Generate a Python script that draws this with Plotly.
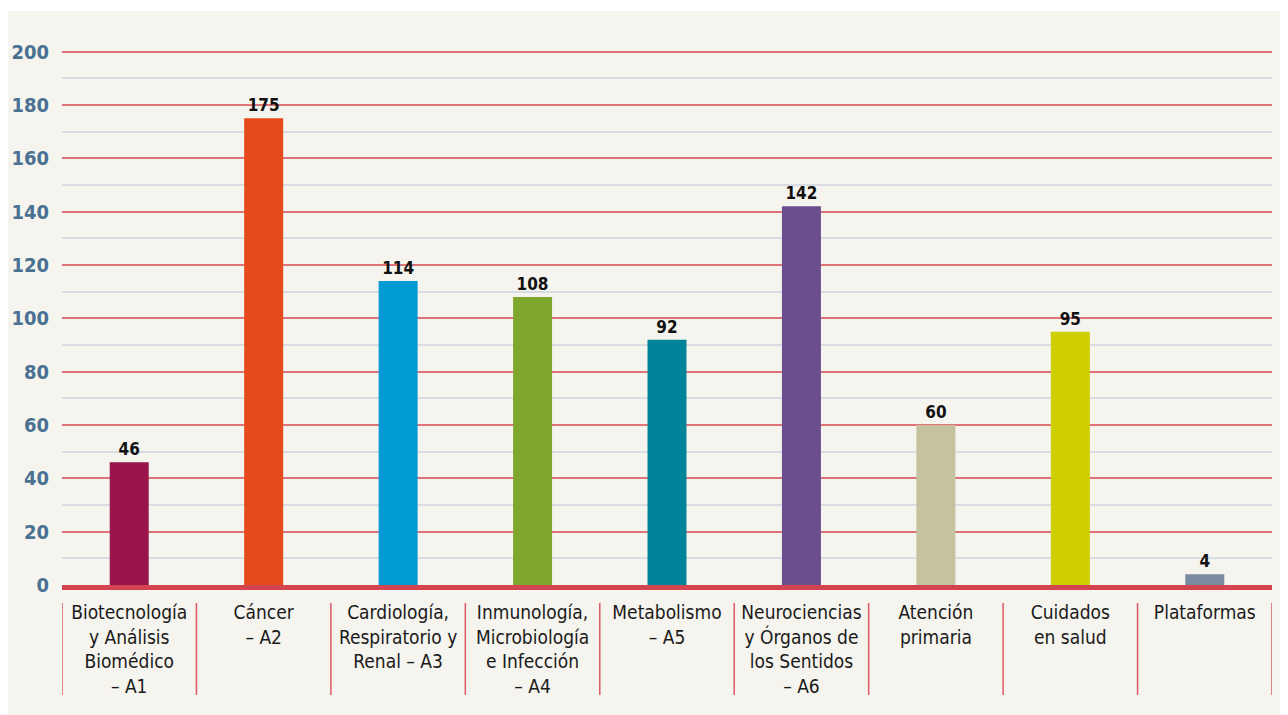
import plotly.graph_objects as go

categories = [
    "Biotecnología<br>y Análisis<br>Biomédico<br>– A1",
    "Cáncer<br>– A2",
    "Cardiología,<br>Respiratorio y<br>Renal – A3",
    "Inmunología,<br>Microbiología<br>e Infección<br>– A4",
    "Metabolismo<br>– A5",
    "Neurociencias<br>y Órganos de<br>los Sentidos<br>– A6",
    "Atención<br>primaria",
    "Cuidados<br>en salud",
    "Plataformas",
]
values = [46, 175, 114, 108, 92, 142, 60, 95, 4]
colors = ["#98144a", "#e54a1a", "#009ad4", "#80a72d", "#00849a",
          "#6b4e8e", "#c5c29e", "#cfce00", "#7a8aa0"]
y_ticks = [0, 20, 40, 60, 80, 100, 120, 140, 160, 180, 200]

FONT = "Liberation Sans Narrow, Arial Narrow, DejaVu Sans Condensed, sans-serif"
PANEL = "#f5f4ee"

x_idx = list(range(len(categories)))

fig = go.Figure()
fig.add_trace(go.Bar(
    x=x_idx, y=values,
    marker=dict(color=colors, line=dict(width=0)),
    texttemplate="%{y}", textposition="outside", cliponaxis=False,
    textfont=dict(family=FONT, size=17, color="#111111", weight="bold"),
    hoverinfo="skip",
))

# panel background (extends past the figure edges)
shapes = [dict(type="rect", xref="paper", yref="paper",
               x0=-0.0455, x1=1.03, y0=-0.26, y1=1.0709,
               fillcolor=PANEL, line=dict(width=0), layer="below")]
# category dividers under the axis
for i in range(len(categories) + 1):
    shapes.append(dict(type="line", xref="x", yref="paper",
                       x0=i - 0.5, x1=i - 0.5, y0=-0.0336, y1=-0.205,
                       line=dict(color="#db5a64", width=1.5)))

fig.update_layout(
    width=1280, height=707,
    margin=dict(l=54, r=16, t=41, b=130, pad=0),
    paper_bgcolor="white", plot_bgcolor=PANEL,
    bargap=0.71, showlegend=False,
    shapes=shapes,
    font=dict(family=FONT),
)
fig.update_xaxes(
    tickmode="array", tickvals=x_idx, ticktext=categories,
    range=[-0.5, len(categories) - 0.5],
    showline=True, linecolor="#d2444f", linewidth=5,
    ticks="", showgrid=False, zeroline=False, automargin=False,
    tickfont=dict(family=FONT, size=19, color="#1a1a1a"),
    ticklabelstandoff=6,
)
fig.update_yaxes(
    range=[0, 201], tickmode="array", tickvals=y_ticks,
    showgrid=True, gridcolor="#e0737a", gridwidth=2,
    minor=dict(dtick=10, showgrid=True, gridcolor="#d9dce2", gridwidth=2, ticks=""),
    zeroline=False, showline=False, ticks="", automargin=False,
    tickfont=dict(family=FONT, size=20, color="#4a7192", weight="bold"),
    ticklabelstandoff=12,
)

fig.write_html("out.html")
